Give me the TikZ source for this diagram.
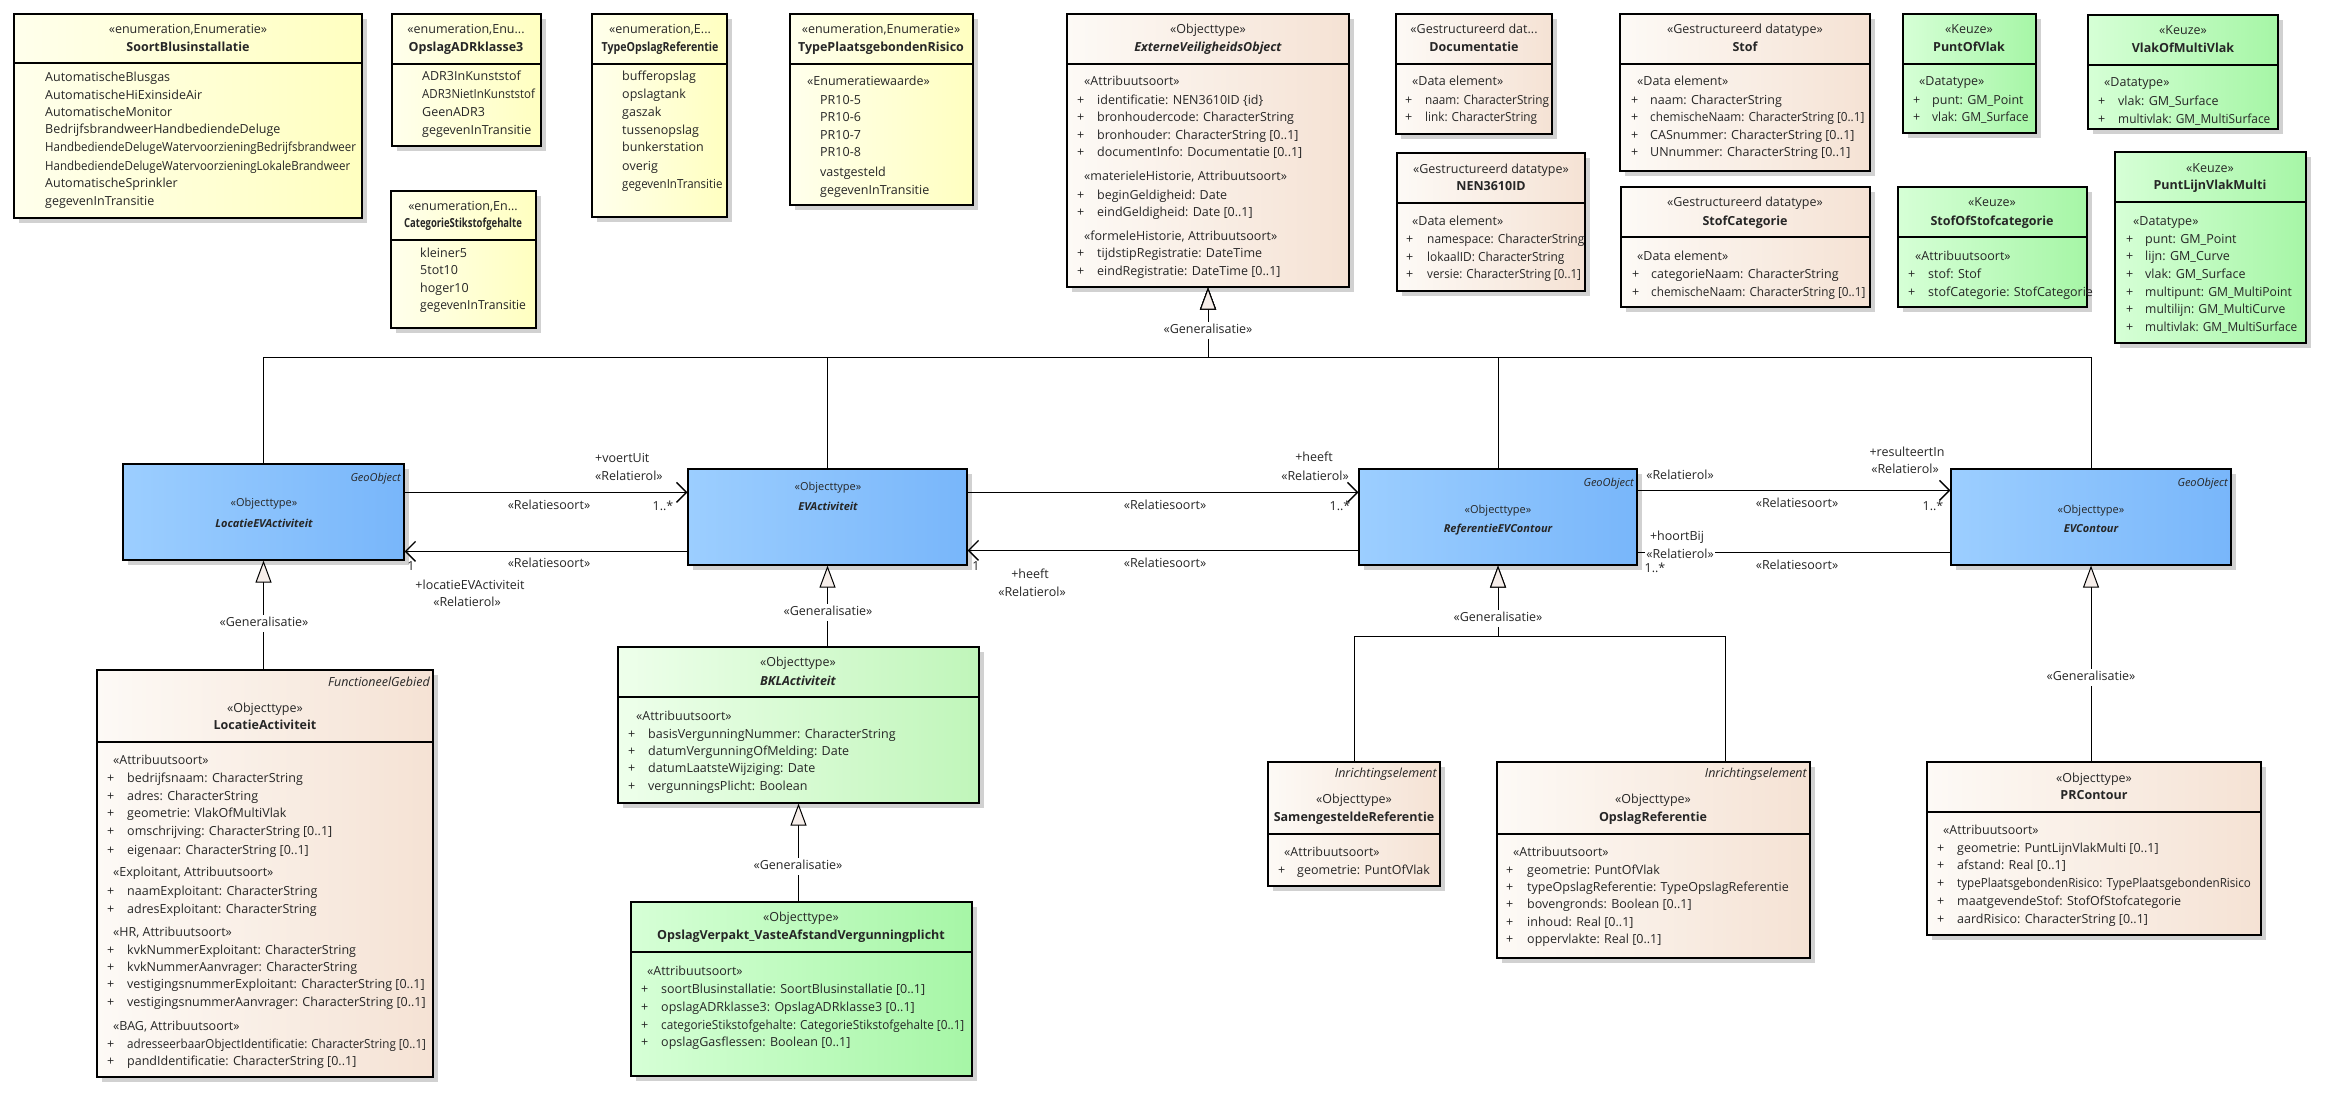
\documentclass[tikz,border=0pt]{standalone}
\usepackage{fontspec}
\setmainfont{Open Sans}
\usepackage{graphicx}
\usetikzlibrary{arrows.meta,calc}
\definecolor{yelL}{RGB}{255,255,236}
\definecolor{yelR}{RGB}{255,255,192}
\definecolor{peaL}{RGB}{253,250,246}
\definecolor{peaR}{RGB}{245,226,212}
\definecolor{grnL}{RGB}{214,255,214}
\definecolor{grnR}{RGB}{166,246,166}
\definecolor{bluL}{RGB}{156,206,255}
\definecolor{bluR}{RGB}{120,182,250}
\definecolor{bklL}{RGB}{238,255,235}
\definecolor{bklR}{RGB}{192,246,186}
\definecolor{trif}{RGB}{246,238,234}
\newcounter{tn}
\newcommand\bfnt{\fontsize{11}{13}\selectfont}
\newcommand\uBox[7]{%
  \fill[shadowc] (#2+5,#3+5) rectangle (#4+5,#5+5);
  \pgfmathsetmacro\bw{#4-#2}\pgfmathsetmacro\bh{#5-#3}%
  \node[ubox,#7,minimum width=\bw pt,minimum height=\bh pt] (#1) at ({(#2+#4)/2},{(#3+#5)/2}) {};
  \ifx\relax#6\relax\else\draw[divl] (#2,#6) -- (#4,#6);\fi
}
\newcommand\uLt[3]{\stepcounter{tn}\edef\tname{t\arabic{tn}}\node[txt,anchor=west] (\tname) at (#1,#2) {#3};}
\newcommand\uCt[3]{\stepcounter{tn}\edef\tname{t\arabic{tn}}\node[txt] (\tname) at (#1,#2) {#3};}
\newcommand\uRt[3]{\stepcounter{tn}\edef\tname{t\arabic{tn}}\node[txt,anchor=east] (\tname) at (#1,#2) {#3};}
\newcommand\uAt[4]{\uLt{#1}{#3}{+}\uLt{#2}{#3}{#4}}
\newcommand\sq[2]{\scalebox{#1}[1]{#2}}
\begin{document}
\begin{tikzpicture}[x=1pt,y=-1pt,
  shadowc/.style={fill=black!18},
  ubox/.style={draw=black,line width=1.2pt,inner sep=0pt},
  divl/.style={line width=1.2pt},
  yel/.style={left color=yelL,right color=yelR},
  pea/.style={left color=peaL,right color=peaR},
  grn/.style={left color=grnL,right color=grnR},
  blu/.style={left color=bluL,right color=bluR},
  bkl/.style={left color=bklL,right color=bklR},
  txt/.style={inner sep=0pt,text height=8.5pt,text depth=2.5pt,font=\fontsize{12.5}{14}\selectfont,text=black!85},
  glab/.style={txt,fill=white,inner ysep=3pt,inner xsep=1pt},
  assoc/.style={line width=1.5pt,-{Straight Barb[length=10pt,width=20pt,line width=1.3pt]}},
  assocl/.style={line width=1.5pt},
  gen/.style={line width=1pt,-{Triangle[length=22pt,width=16pt,fill=trif,line width=1pt]}}
]
\fill[white] (0,0) rectangle (2329,1097);
\useasboundingbox (0,0) rectangle (2329,1097);

% ---------- enumerations ----------
\uBox{SBI}{14}{14}{362}{218}{63}{yel}
\uCt{188}{31}{«enumeration,Enumeratie»}
\uCt{188}{49}{\bfseries SoortBlusinstallatie}
\uLt{45}{79}{AutomatischeBlusgas}
\uLt{45}{97}{AutomatischeHiExinsideAir}
\uLt{45}{114}{AutomatischeMonitor}
\uLt{45}{131}{BedrijfsbrandweerHandbediendeDeluge}
\uLt{45}{149}{\sq{0.92}{HandbediendeDelugeWatervoorzieningBedrijfsbrandweer}}
\uLt{45}{167}{\sq{0.92}{HandbediendeDelugeWatervoorzieningLokaleBrandweer}}
\uLt{45}{184}{AutomatischeSprinkler}
\uLt{45}{202}{gegevenInTransitie}

\uBox{ADR}{392}{14}{541}{146}{64}{yel}
\uCt{466}{31}{«enumeration,Enu...}
\uCt{466}{49}{\bfseries OpslagADRklasse3}
\uLt{422}{78}{ADR3InKunststof}
\uLt{422}{96}{\sq{0.92}{ADR3NietInKunststof}}
\uLt{422}{114}{GeenADR3}
\uLt{422}{132}{gegevenInTransitie}

\uBox{CSG}{391}{191}{536}{328}{240}{yel}
\uCt{463}{207}{«enumeration,En...}
\uCt{463}{224}{\sq{0.76}{\bfseries CategorieStikstofgehalte}}
\uLt{420}{254}{kleiner5}
\uLt{420}{271}{5tot10}
\uLt{420}{289}{hoger10}
\uLt{420}{306}{\sq{0.97}{gegevenInTransitie}}

\uBox{TOR}{592}{14}{727}{217}{64}{yel}
\uCt{660}{31}{«enumeration,E...}
\uCt{660}{49}{\sq{0.85}{\bfseries TypeOpslagReferentie}}
\uLt{622}{78}{bufferopslag}
\uLt{622}{96}{opslagtank}
\uLt{622}{114}{gaszak}
\uLt{622}{132}{tussenopslag}
\uLt{622}{149}{bunkerstation}
\uLt{622}{167}{overig}
\uLt{622}{185}{\sq{0.92}{gegevenInTransitie}}

\uBox{TPR}{790}{14}{973}{205}{64}{yel}
\uCt{881}{31}{«enumeration,Enumeratie»}
\uCt{881}{49}{\bfseries TypePlaatsgebondenRisico}
\uLt{807}{83}{«Enumeratiewaarde»}
\uLt{820}{102}{PR10-5}
\uLt{820}{119}{PR10-6}
\uLt{820}{137}{PR10-7}
\uLt{820}{154}{PR10-8}
\uLt{820}{173}{vastgesteld}
\uLt{820}{191}{gegevenInTransitie}

% ---------- top datatypes ----------
\uBox{EVO}{1067}{14}{1349}{287}{64}{pea}
\uCt{1208}{31}{«Objecttype»}
\uCt{1208}{49}{\bfseries\itshape ExterneVeiligheidsObject}
\uLt{1084}{83}{«Attribuutsoort»}
\uAt{1077}{1097}{102}{identificatie: NEN3610ID \{id\}}
\uAt{1077}{1097}{119}{bronhoudercode: CharacterString}
\uAt{1077}{1097}{137}{bronhouder: CharacterString [0..1]}
\uAt{1077}{1097}{154}{documentInfo: Documentatie [0..1]}
\uLt{1084}{177}{«materieleHistorie, Attribuutsoort»}
\uAt{1077}{1097}{196}{beginGeldigheid: Date}
\uAt{1077}{1097}{213}{eindGeldigheid: Date [0..1]}
\uLt{1084}{237}{«formeleHistorie, Attribuutsoort»}
\uAt{1077}{1097}{254}{tijdstipRegistratie: DateTime}
\uAt{1077}{1097}{272}{eindRegistratie: DateTime [0..1]}

\uBox{DOC}{1396}{14}{1552}{134}{64}{pea}
\uCt{1474}{31}{«Gestructureerd dat...}
\uCt{1474}{49}{\bfseries Documentatie}
\uLt{1412}{83}{«Data element»}
\uAt{1405}{1425}{102}{\sq{0.94}{naam: CharacterString}}
\uAt{1405}{1425}{119}{\sq{0.94}{link: CharacterString}}

\uBox{NEN}{1397}{153}{1585}{291}{203}{pea}
\uCt{1491}{170}{«Gestructureerd datatype»}
\uCt{1491}{187}{\bfseries NEN3610ID}
\uLt{1412}{222}{«Data element»}
\uAt{1406}{1427}{240}{\sq{0.95}{namespace: CharacterString}}
\uAt{1406}{1427}{258}{\sq{0.95}{lokaalID: CharacterString}}
\uAt{1406}{1427}{275}{\sq{0.93}{versie: CharacterString [0..1]}}

\uBox{STF}{1620}{14}{1870}{171}{64}{pea}
\uCt{1745}{31}{«Gestructureerd datatype»}
\uCt{1745}{49}{\bfseries Stof}
\uLt{1637}{83}{«Data element»}
\uAt{1631}{1650}{102}{naam: CharacterString}
\uAt{1631}{1650}{119}{\sq{0.94}{chemischeNaam: CharacterString [0..1]}}
\uAt{1631}{1650}{137}{CASnummer: CharacterString [0..1]}
\uAt{1631}{1650}{154}{UNnummer: CharacterString [0..1]}

\uBox{STC}{1621}{187}{1870}{307}{237}{pea}
\uCt{1745}{203}{«Gestructureerd datatype»}
\uCt{1745}{222}{\bfseries StofCategorie}
\uLt{1637}{257}{«Data element»}
\uAt{1632}{1651}{275}{categorieNaam: CharacterString}
\uAt{1632}{1651}{293}{\sq{0.94}{chemischeNaam: CharacterString [0..1]}}

\uBox{POV}{1903}{14}{2036}{133}{64}{grn}
\uCt{1969}{31}{«Keuze»}
\uCt{1969}{49}{\bfseries PuntOfVlak}
\uLt{1919}{83}{«Datatype»}
\uAt{1913}{1932}{102}{punt: GM\_Point}
\uAt{1913}{1932}{119}{\sq{0.96}{vlak: GM\_Surface}}

\uBox{SOS}{1898}{187}{2087}{307}{237}{grn}
\uCt{1992}{203}{«Keuze»}
\uCt{1992}{222}{\bfseries StofOfStofcategorie}
\uLt{1915}{257}{«Attribuutsoort»}
\uAt{1908}{1928}{275}{stof: Stof}
\uAt{1908}{1928}{293}{stofCategorie: StofCategorie}

\uBox{VMV}{2088}{15}{2278}{129}{65}{grn}
\uCt{2183}{32}{«Keuze»}
\uCt{2183}{50}{\bfseries VlakOfMultiVlak}
\uLt{2104}{84}{«Datatype»}
\uAt{2098}{2118}{103}{vlak: GM\_Surface}
\uAt{2098}{2118}{121}{\sq{0.95}{multivlak: GM\_MultiSurface}}

\uBox{PLV}{2115}{152}{2306}{343}{202}{grn}
\uCt{2210}{169}{«Keuze»}
\uCt{2210}{186}{\bfseries PuntLijnVlakMulti}
\uLt{2133}{222}{«Datatype»}
\uAt{2126}{2145}{240}{punt: GM\_Point}
\uAt{2126}{2145}{257}{lijn: GM\_Curve}
\uAt{2126}{2145}{275}{vlak: GM\_Surface}
\uAt{2126}{2145}{293}{\sq{0.97}{multipunt: GM\_MultiPoint}}
\uAt{2126}{2145}{310}{\sq{0.97}{multilijn: GM\_MultiCurve}}
\uAt{2126}{2145}{328}{\sq{0.95}{multivlak: GM\_MultiSurface}}

% ---------- main blue classes ----------
\uBox{LEA}{123}{464}{404}{560}{}{blu}
\uBox{EVA}{688}{469}{967}{565}{}{blu}
\uBox{REC}{1359}{469}{1637}{565}{}{blu}
\uBox{EVC}{1951}{469}{2231}{565}{}{blu}

% ---------- lower classes ----------
\uBox{LA}{97}{670}{433}{1077}{742}{pea}
\uBox{BKL}{618}{647}{979}{803}{697}{bkl}
\uBox{OV}{631}{902}{972}{1076}{952}{grn}
\uBox{SR}{1268}{762}{1440}{886}{834}{pea}
\uBox{OR}{1497}{762}{1810}{958}{834}{pea}
\uBox{PRC}{1927}{762}{2261}{935}{812}{pea}

% ---------- generalisations ----------
\coordinate (gtop) at (1208,357);
\draw[gen] (LEA.north) |- (gtop) -- (EVO.south);
\draw[gen] (EVA.north) |- (gtop) -- (EVO.south);
\draw[gen] (REC.north) |- (gtop) -- (EVO.south);
\draw[gen] (EVC.north) |- (gtop) -- (EVO.south);
\draw[gen] (LEA.south |- LA.north) -- (LEA.south);
\draw[gen] (EVA.south |- BKL.north) -- (EVA.south);
\draw[gen] (BKL.south |- OV.north) -- (BKL.south);
\coordinate (rj) at (1498,636);
\draw[gen] (SR.north) |- (rj) -- (REC.south);
\draw[gen] ([xshift=72pt]OR.north) |- (rj) -- (REC.south);
\draw[gen] (EVC.south |- PRC.north) -- (EVC.south);

% ---------- associations ----------
\draw[assoc] ([yshift=-29pt]LEA.north east) -- ([yshift=-24pt]EVA.north west);
\draw[assoc] ([yshift=-83pt]EVA.north west) -- ([yshift=-88pt]LEA.north east);
\draw[assoc] ([yshift=-24pt]EVA.north east) -- ([yshift=-24pt]REC.north west);
\draw[assoc] ([yshift=-82pt]REC.north west) -- ([yshift=-82pt]EVA.north east);
\draw[assoc] ([yshift=-22pt]REC.north east) -- ([yshift=-22pt]EVC.north west);
\draw[assocl] ([yshift=-84pt]REC.north east) -- ([yshift=-84pt]EVC.north west);

% ---------- texts of blue classes ----------
\uRt{401}{478}{\bfnt\itshape GeoObject}
\uCt{264}{503}{\bfnt «Objecttype»}
\uCt{264}{524}{\bfnt\bfseries\itshape LocatieEVActiviteit}
\uCt{828}{487}{\bfnt «Objecttype»}
\uCt{828}{507}{\bfnt\bfseries\itshape EVActiviteit}
\uRt{1634}{483}{\bfnt\itshape GeoObject}
\uCt{1498}{510}{\bfnt «Objecttype»}
\uCt{1498}{529}{\bfnt\bfseries\itshape ReferentieEVContour}
\uRt{2228}{483}{\bfnt\itshape GeoObject}
\uCt{2091}{510}{\bfnt «Objecttype»}
\uCt{2091}{529}{\bfnt\bfseries\itshape EVContour}

% ---------- lower class texts ----------
\uRt{430}{683}{\itshape FunctioneelGebied}
\uCt{265}{709}{«Objecttype»}
\uCt{265}{726}{\bfseries LocatieActiviteit}
\uLt{113}{761}{«Attribuutsoort»}
\uAt{107}{127}{779}{bedrijfsnaam: CharacterString}
\uAt{107}{127}{797}{adres: CharacterString}
\uAt{107}{127}{814}{geometrie: VlakOfMultiVlak}
\uAt{107}{127}{832}{omschrijving: CharacterString [0..1]}
\uAt{107}{127}{851}{eigenaar: CharacterString [0..1]}
\uLt{113}{873}{«Exploitant, Attribuutsoort»}
\uAt{107}{127}{892}{naamExploitant: CharacterString}
\uAt{107}{127}{910}{adresExploitant: CharacterString}
\uLt{113}{933}{«HR, Attribuutsoort»}
\uAt{107}{127}{951}{kvkNummerExploitant: CharacterString}
\uAt{107}{127}{968}{kvkNummerAanvrager: CharacterString}
\uAt{107}{127}{985}{vestigingsnummerExploitant: CharacterString [0..1]}
\uAt{107}{127}{1003}{vestigingsnummerAanvrager: CharacterString [0..1]}
\uLt{113}{1027}{«BAG, Attribuutsoort»}
\uAt{107}{127}{1045}{\sq{0.93}{adresseerbaarObjectIdentificatie: CharacterString [0..1]}}
\uAt{107}{127}{1062}{pandIdentificatie: CharacterString [0..1]}

\uCt{798}{663}{«Objecttype»}
\uCt{798}{682}{\bfseries\itshape BKLActiviteit}
\uLt{636}{717}{«Attribuutsoort»}
\uAt{628}{648}{735}{basisVergunningNummer: CharacterString}
\uAt{628}{648}{752}{datumVergunningOfMelding: Date}
\uAt{628}{648}{769}{datumLaatsteWijziging: Date}
\uAt{628}{648}{787}{vergunningsPlicht: Boolean}

\uCt{801}{918}{«Objecttype»}
\uCt{801}{936}{\bfseries OpslagVerpakt\_VasteAfstandVergunningplicht}
\uLt{647}{972}{«Attribuutsoort»}
\uAt{641}{661}{990}{soortBlusinstallatie: SoortBlusinstallatie [0..1]}
\uAt{641}{661}{1008}{opslagADRklasse3: OpslagADRklasse3 [0..1]}
\uAt{641}{661}{1026}{\sq{0.94}{categorieStikstofgehalte: CategorieStikstofgehalte [0..1]}}
\uAt{641}{661}{1043}{opslagGasflessen: Boolean [0..1]}

\uRt{1437}{774}{\itshape Inrichtingselement}
\uCt{1354}{800}{«Objecttype»}
\uCt{1354}{818}{\bfseries SamengesteldeReferentie}
\uLt{1284}{853}{«Attribuutsoort»}
\uAt{1278}{1297}{871}{geometrie: PuntOfVlak}

\uRt{1807}{774}{\itshape Inrichtingselement}
\uCt{1653}{800}{«Objecttype»}
\uCt{1653}{818}{\bfseries OpslagReferentie}
\uLt{1513}{853}{«Attribuutsoort»}
\uAt{1506}{1527}{871}{geometrie: PuntOfVlak}
\uAt{1506}{1527}{888}{typeOpslagReferentie: TypeOpslagReferentie}
\uAt{1506}{1527}{905}{bovengronds: Boolean [0..1]}
\uAt{1506}{1527}{923}{inhoud: Real [0..1]}
\uAt{1506}{1527}{940}{oppervlakte: Real [0..1]}

\uCt{2094}{779}{«Objecttype»}
\uCt{2094}{796}{\bfseries PRContour}
\uLt{1943}{831}{«Attribuutsoort»}
\uAt{1937}{1957}{849}{geometrie: PuntLijnVlakMulti [0..1]}
\uAt{1937}{1957}{866}{afstand: Real [0..1]}
\uAt{1937}{1957}{884}{\sq{0.93}{typePlaatsgebondenRisico: TypePlaatsgebondenRisico}}
\uAt{1937}{1957}{902}{maatgevendeStof: StofOfStofcategorie}
\uAt{1937}{1957}{920}{aardRisico: CharacterString [0..1]}

% ---------- connector labels ----------
\node[glab] (g0) at (1208,330) {«Generalisatie»};
\node[glab] (g1) at (264,623) {«Generalisatie»};
\node[glab] (g2) at (828,612) {«Generalisatie»};
\node[glab] (g3) at (798,866) {«Generalisatie»};
\node[glab] (g4) at (1498,618) {«Generalisatie»};
\node[glab] (g5) at (2091,677) {«Generalisatie»};

\uLt{595}{459}{+voertUit}
\uLt{595}{477}{«Relatierol»}
\uCt{663}{507}{1..*}
\uCt{549}{506}{«Relatiesoort»}
\uCt{549}{564}{«Relatiesoort»}
\uCt{411}{567}{1}
\uCt{470}{586}{+locatieEVActiviteit}
\uCt{467}{603}{«Relatierol»}

\uCt{1314}{458}{+heeft}
\uCt{1315}{477}{«Relatierol»}
\uCt{1340}{507}{1..*}
\uCt{1165}{506}{«Relatiesoort»}
\uCt{1165}{564}{«Relatiesoort»}
\uCt{976}{567}{1}
\uCt{1030}{575}{+heeft}
\uCt{1032}{593}{«Relatierol»}

\uCt{1680}{476}{«Relatierol»}
\uCt{1907}{453}{+resulteertIn}
\uCt{1905}{470}{«Relatierol»}
\uCt{1933}{507}{1..*}
\uCt{1797}{504}{«Relatiesoort»}
\uCt{1677}{537}{+hoortBij}
\node[glab,inner ysep=1pt] (hb) at (1680,555) {«Relatierol»};
\uCt{1655}{569}{1..*}
\uCt{1797}{566}{«Relatiesoort»}
\end{tikzpicture}
\end{document}
